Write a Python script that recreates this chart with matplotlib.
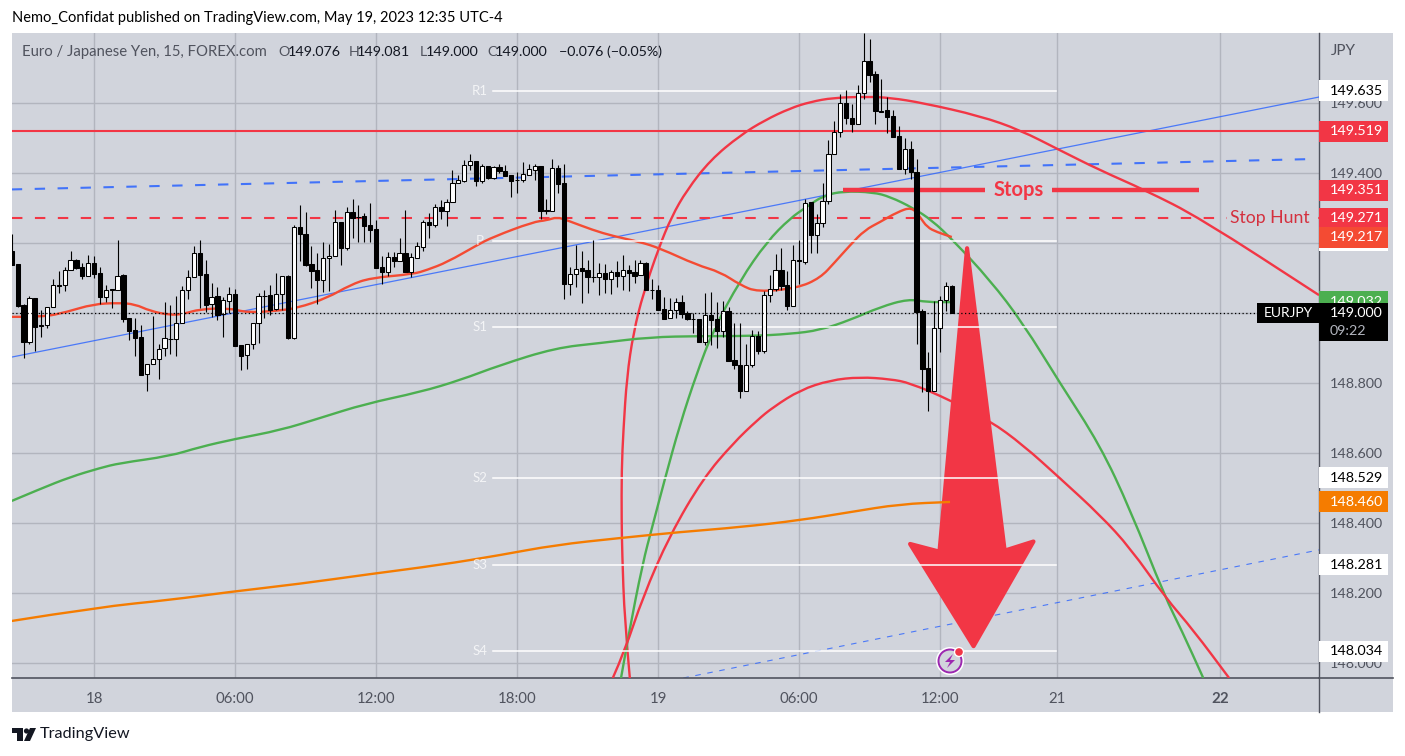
"""
EUR/JPY 15m TradingView snapshot, candles plus hand drawn curves.
Outputs: out.png
"""
import matplotlib
matplotlib.use("Agg")
import numpy as np
import matplotlib.pyplot as plt
from matplotlib.patches import Rectangle, Circle, Polygon, PathPatch
from matplotlib.path import Path
from matplotlib.transforms import IdentityTransform

# ── Colours ───────────────────────────────────────────────────────────────────
BG     = "#d1d4dc"
GRID   = "#b2b5be"
AXIS   = "#50535e"
RED    = "#f23645"
EMA    = "#f44b33"
GREEN  = "#4caf50"
ORANGE = "#f57c00"
BLUE   = "#2962ff"

# ── Candles, one row per 15 minute bar ────────────────────────────────────────
opens = [
    149.177, 149.140, 149.023, 148.918, 149.042, 148.965, 148.965, 149.018, 149.079, 149.079,
    149.122, 149.151, 149.130, 149.107, 149.143, 149.113, 149.047, 149.068, 149.067, 149.108,
    148.986, 148.951, 148.930, 148.825, 148.853, 148.868, 148.899, 148.926, 148.925, 148.970,
    149.065, 149.102, 149.170, 149.110, 149.025, 149.048, 148.996, 149.035, 149.054, 148.908,
    148.879, 148.910, 148.970, 149.049, 149.050, 149.010, 149.053, 149.106, 148.929, 149.245,
    149.227, 149.139, 149.122, 149.095, 149.156, 149.164, 149.259, 149.187, 149.288, 149.274,
    149.276, 149.251, 149.240, 149.130, 149.117, 149.160, 149.148, 149.171, 149.117, 149.158,
    149.189, 149.259, 149.252, 149.302, 149.292, 149.316, 149.370, 149.378, 149.422, 149.433,
    149.378, 149.420, 149.386, 149.416, 149.407, 149.393, 149.380, 149.381, 149.395, 149.409,
    149.420, 149.293, 149.292, 149.413, 149.370, 149.084, 149.112, 149.128, 149.122, 149.104,
    149.102, 149.113, 149.098, 149.117, 149.106, 149.123, 149.117, 149.108, 149.142, 149.067,
    149.065, 149.010, 148.985, 149.008, 149.031, 148.999, 148.984, 148.983, 148.918, 148.994,
    148.983, 148.949, 149.006, 148.866, 148.851, 148.778, 148.850, 148.933, 148.890, 149.050,
    149.069, 149.122, 149.079, 149.021, 149.150, 149.147, 149.316, 149.222, 149.256, 149.321,
    149.454, 149.517, 149.600, 149.557, 149.541, 149.628, 149.720, 149.683, 149.577, 149.581,
    149.562, 149.505, 149.411, 149.469, 149.403, 149.006, 148.842, 148.778, 148.956, 149.036,
    149.076,
]
highs = [
    149.227, 149.140, 149.027, 149.048, 149.042, 149.008, 149.018, 149.097, 149.121, 149.132,
    149.177, 149.155, 149.142, 149.166, 149.163, 149.132, 149.080, 149.068, 149.208, 149.111,
    148.986, 148.985, 148.966, 148.853, 148.991, 148.911, 149.030, 149.023, 149.048, 149.077,
    149.123, 149.191, 149.208, 149.151, 149.087, 149.075, 149.047, 149.075, 149.068, 148.908,
    148.910, 148.970, 149.056, 149.066, 149.080, 149.113, 149.105, 149.109, 149.251, 149.308,
    149.288, 149.191, 149.170, 149.202, 149.196, 149.294, 149.259, 149.302, 149.327, 149.308,
    149.287, 149.313, 149.266, 149.163, 149.173, 149.173, 149.215, 149.294, 149.170, 149.202,
    149.266, 149.285, 149.311, 149.323, 149.325, 149.408, 149.394, 149.437, 149.454, 149.433,
    149.427, 149.420, 149.420, 149.425, 149.423, 149.394, 149.404, 149.430, 149.427, 149.427,
    149.420, 149.327, 149.440, 149.423, 149.427, 149.130, 149.194, 149.177, 149.151, 149.208,
    149.142, 149.139, 149.123, 149.149, 149.167, 149.137, 149.151, 149.151, 149.147, 149.096,
    149.080, 149.045, 149.042, 149.042, 149.050, 149.005, 149.000, 148.983, 149.056, 149.060,
    149.030, 149.035, 149.016, 148.970, 148.970, 148.911, 148.951, 148.948, 149.063, 149.108,
    149.168, 149.185, 149.121, 149.194, 149.208, 149.325, 149.316, 149.283, 149.371, 149.495,
    149.549, 149.626, 149.638, 149.598, 149.652, 149.800, 149.783, 149.691, 149.669, 149.617,
    149.581, 149.535, 149.501, 149.492, 149.440, 149.012, 148.889, 149.033, 149.049, 149.088,
    149.081,
]
lows = [
    149.137, 149.018, 148.870, 148.911, 148.892, 148.930, 148.958, 149.018, 149.058, 149.064,
    149.122, 149.127, 149.098, 149.107, 149.101, 149.027, 149.032, 149.013, 149.066, 148.975,
    148.923, 148.877, 148.824, 148.778, 148.853, 148.812, 148.877, 148.883, 148.877, 148.970,
    149.039, 149.102, 149.013, 149.004, 148.989, 148.980, 148.932, 148.999, 148.907, 148.837,
    148.841, 148.897, 148.913, 148.987, 148.994, 149.008, 149.008, 148.925, 148.925, 149.149,
    149.134, 149.071, 149.027, 149.061, 149.063, 149.164, 149.137, 149.180, 149.215, 149.204,
    149.204, 149.204, 149.128, 149.082, 149.106, 149.132, 149.148, 149.117, 149.102, 149.158,
    149.178, 149.213, 149.246, 149.268, 149.249, 149.316, 149.370, 149.373, 149.408, 149.364,
    149.372, 149.382, 149.384, 149.401, 149.392, 149.332, 149.344, 149.375, 149.393, 149.380,
    149.269, 149.283, 149.292, 149.344, 149.041, 149.051, 149.075, 149.029, 149.056, 149.089,
    149.051, 149.058, 149.055, 149.075, 149.066, 149.064, 149.085, 149.108, 149.067, 149.041,
    149.009, 148.984, 148.985, 148.987, 148.985, 148.980, 148.944, 148.918, 148.909, 148.909,
    148.901, 148.930, 148.864, 148.839, 148.758, 148.776, 148.845, 148.882, 148.887, 149.032,
    149.064, 149.066, 149.009, 149.021, 149.082, 149.140, 149.172, 149.172, 149.246, 149.312,
    149.454, 149.504, 149.541, 149.516, 149.541, 149.611, 149.659, 149.541, 149.575, 149.513,
    149.504, 149.411, 149.396, 149.382, 148.912, 148.773, 148.721, 148.778, 148.889, 149.007,
    149.000,
]
closes = [
    149.137, 149.021, 148.918, 149.042, 148.961, 148.963, 149.018, 149.079, 149.078, 149.122,
    149.150, 149.129, 149.106, 149.142, 149.112, 149.047, 149.067, 149.067, 149.107, 148.984,
    148.949, 148.929, 148.824, 148.853, 148.868, 148.898, 148.928, 148.925, 148.970, 149.065,
    149.102, 149.170, 149.109, 149.024, 149.047, 148.995, 149.036, 149.053, 148.907, 148.878,
    148.910, 148.970, 149.048, 149.048, 149.008, 149.053, 149.105, 148.929, 149.245, 149.226,
    149.138, 149.121, 149.095, 149.156, 149.164, 149.259, 149.187, 149.288, 149.271, 149.273,
    149.249, 149.237, 149.128, 149.117, 149.159, 149.148, 149.170, 149.117, 149.159, 149.190,
    149.259, 149.251, 149.302, 149.291, 149.317, 149.370, 149.379, 149.422, 149.433, 149.378,
    149.419, 149.385, 149.416, 149.405, 149.392, 149.378, 149.379, 149.396, 149.410, 149.419,
    149.292, 149.292, 149.413, 149.369, 149.084, 149.112, 149.127, 149.121, 149.104, 149.103,
    149.113, 149.098, 149.116, 149.106, 149.122, 149.115, 149.106, 149.142, 149.067, 149.066,
    149.009, 148.984, 149.008, 149.030, 148.998, 148.984, 148.983, 148.918, 148.993, 148.980,
    148.949, 149.005, 148.864, 148.850, 148.778, 148.850, 148.933, 148.890, 149.050, 149.069,
    149.122, 149.078, 149.021, 149.150, 149.148, 149.314, 149.222, 149.256, 149.321, 149.454,
    149.517, 149.600, 149.557, 149.541, 149.628, 149.720, 149.681, 149.576, 149.575, 149.561,
    149.504, 149.411, 149.468, 149.402, 149.004, 148.840, 148.778, 148.956, 149.036, 149.076,
    149.000,
]

# ── Moving averages (bar index, price) ────────────────────────────────────────
ema_red_x = [0, 5.3, 9.4, 13.8, 18.1, 21, 23.5, 26.9, 29.2, 32, 37.1, 40, 45.1, 48.6, 53.7, 57.6,
             61, 68.3, 70.7, 74.1, 79.2, 81.9, 88.7, 91.1, 92.8, 94.5, 98.9, 102.3, 106.9, 110.3,
             116.6, 120.6, 124, 126.9, 133.7, 137.6, 140.1, 142.7, 145.2, 147.8, 150.7, 153.2,
             154.6, 155.8, 157.5, 160]
ema_red_y = [148.989, 148.988, 149.003, 149.025, 149.029, 149.025, 149.006, 148.994, 148.997,
             149.011, 149.014, 149.001, 149.006, 149.014, 149.043, 149.080, 149.100, 149.111,
             149.123, 149.145, 149.194, 149.217, 149.260, 149.265, 149.274, 149.265, 149.237,
             149.220, 149.203, 149.185, 149.137, 149.117, 149.080, 149.060, 149.071, 149.100,
             149.145, 149.194, 149.237, 149.260, 149.288, 149.303, 149.274, 149.245, 149.231,
             149.217]

ema_green_x = [0, 4.8, 9.9, 15, 18.4, 26.9, 32, 38, 45.7, 52.5, 60.1, 69.5, 76.3, 83.1, 92.5, 100.1,
               108.6, 117.1, 125.7, 132.5, 137.6, 142.7, 147.8, 152.6, 155.8, 159.7]
ema_green_y = [148.463, 148.497, 148.531, 148.557, 148.571, 148.591, 148.617, 148.640, 148.665,
               148.700, 148.740, 148.774, 148.808, 148.851, 148.900, 148.914, 148.931, 148.934,
               148.934, 148.940, 148.951, 148.980, 149.017, 149.040, 149.031, 149.031]

ema_orange_x = [0, 15, 26.9, 37.1, 49, 61, 72.9, 83.1, 92.5, 103.5, 113.7, 124, 134.2, 142.7, 151.2, 159.7]
ema_orange_y = [148.120, 148.160, 148.180, 148.203, 148.226, 148.254, 148.280, 148.308, 148.337,
                148.357, 148.374, 148.388, 148.408, 148.431, 148.454, 148.460]

# ── Drawn arcs ────────────────────────────────────────────────────────────────
arc_top_x = [105.2, 104.3, 103.9, 103.8, 103.8, 104.1, 104.7, 105.8, 107.5, 110.1, 112.3, 114.9, 118.9,
             124, 128.2, 132.5, 135.9, 139.8, 145.6, 149.5, 155.1, 164.8, 171.6, 178.4, 185.2, 192.9,
             202.3, 222.5]
arc_top_y = [147.957, 148.123, 148.314, 148.408, 148.551, 148.665, 148.818, 148.943, 149.057, 149.185,
             149.275, 149.351, 149.437, 149.508, 149.551, 149.585, 149.603, 149.615, 149.618, 149.615,
             149.600, 149.563, 149.523, 149.465, 149.408, 149.351, 149.271, 149.051]

arc_green_x = [103.7, 104.9, 107.4, 109, 111.2, 113.7, 116.6, 119.4, 124, 128.5, 132.5, 135.3, 138.1,
               141.5, 146.6, 149.5, 153.4, 156.6, 160.2, 166.5, 172.1, 178.4, 185.2, 190.4, 196.3,
               199.1, 202.8]
arc_green_y = [147.957, 148.074, 148.286, 148.388, 148.528, 148.680, 148.828, 148.951, 149.094, 149.203,
               149.271, 149.303, 149.335, 149.348, 149.345, 149.332, 149.300, 149.265, 149.208, 149.094,
               148.971, 148.800, 148.623, 148.437, 148.188, 148.094, 147.957]

arc_low_x = [102.3, 104.4, 107.4, 112, 117.7, 122.8, 126.9, 129.6, 134.2, 139.3, 144.4, 149.5, 152.9,
             159.7, 166.5, 172.1, 178.4, 185.2, 190.4, 196.3, 201.1, 207.2]
arc_low_y = [147.957, 148.037, 148.188, 148.365, 148.528, 148.628, 148.694, 148.731, 148.780, 148.808,
             148.817, 148.811, 148.800, 148.751, 148.692, 148.623, 148.528, 148.423, 148.328, 148.188,
             148.094, 147.957]

# ── Straight drawings ─────────────────────────────────────────────────────────
trend_x = [0, 222.5]
trend_y = [148.874, 149.617]
upper_dash_x = [0, 221.8]
upper_dash_y = [149.353, 149.440]
lower_dash_x = [114.3, 222.5]
lower_dash_y = [147.957, 148.323]

stop_level = 149.351
stop_left = [141.5, 165.7]
stop_right = [177.1, 202]
resistance = 149.519
hunt_level = 149.271
last_price = 149.000

pivot_names = ["R1", "P", "S1", "S2", "S3", "S4"]
pivot_levels = [149.635, 149.206, 148.960, 148.529, 148.281, 148.034]
pivot_span = [81.9, 177.7]

arrow_x = [162.6, 169.0, 173.9, 163.7, 152.9, 157.9]
arrow_y = [149.185, 148.321, 148.347, 148.048, 148.340, 148.318]

# ── Axis labels ───────────────────────────────────────────────────────────────
price_ticks = [148.0, 148.2, 148.4, 148.6, 148.8, 149.0, 149.2, 149.4, 149.6]
price_tick_labels = ["148.000", "148.200", "148.400", "148.600", "148.800", "", "", "149.400", "149.600"]
time_ticks = [14, 38, 62, 86, 110, 134, 158, 177.9, 205.7]
time_labels = ["18", "06:00", "12:00", "18:00", "19", "06:00", "12:00", "21", "22"]

# label boxes on the price scale, later ones sit on top
scale_prices = [149.635, 149.519, 149.351, 149.206, 149.271, 149.217, 149.032, 148.529, 148.460, 148.281, 148.034]
scale_texts = ["149.635", "149.519", "149.351", "", "149.271", "149.217", "149.032", "148.529", "148.460", "148.281", "148.034"]
scale_fills = ["white", RED, RED, "white", RED, EMA, GREEN, "white", ORANGE, "white", "white"]
scale_inks = ["black", "white", "white", "white", "white", "white", "white", "black", "white", "black", "black"]

plt.rcParams["font.family"] = ["Lato", "DejaVu Sans"]

W, H = 1405, 756
fig = plt.figure(figsize=(W / 100, H / 100), dpi=100, facecolor="white")

def px(x, y):
    return x / W, 1 - y / H

# grey panel behind plot, price scale and time scale
fig.add_artist(Rectangle(px(12, 712), 1381 / W, 679 / H, transform=fig.transFigure,
                         facecolor=BG, edgecolor="none", zorder=-5))

ax = fig.add_axes([12 / W, (H - 678) / H, 1307 / W, 645 / H])
ax.patch.set_alpha(0)
ax.set_xlim(0.04, 222.5)
ax.set_ylim(147.957, 149.8)
ax.set_axisbelow(True)

ax.grid(True, color=GRID, lw=1.0)
ax.set_yticks(price_ticks)
ax.set_yticklabels(price_tick_labels)
ax.yaxis.tick_right()
ax.tick_params(axis="y", length=0, pad=8, labelsize=10.3, labelcolor=AXIS)
ax.set_xticks(time_ticks)
ax.set_xticklabels(time_labels)
ax.tick_params(axis="x", length=0, pad=10, labelsize=10.8, labelcolor=AXIS)
ax.get_xticklabels()[-1].set_fontweight("bold")

for side in ("top", "left", "right"):
    ax.spines[side].set_visible(False)
ax.spines["bottom"].set_color(AXIS)
ax.spines["bottom"].set_linewidth(1.2)

# axis rules that run on across the scales
ax.plot([1, 1], [-34 / 645, 1], transform=ax.transAxes, color=AXIS, lw=1, clip_on=False, zorder=1)
ax.plot([1, 1381 / 1307], [0, 0], transform=ax.transAxes, color=AXIS, lw=1.2, clip_on=False, zorder=1)

def curve(xs, ys, color, z):
    # knots act as control points of a quadratic path
    pts = list(zip(xs, ys))
    verts, codes = [pts[0]], [Path.MOVETO]
    for a, b in zip(pts[1:-1], pts[2:]):
        verts += [a, ((a[0] + b[0]) / 2, (a[1] + b[1]) / 2)]
        codes += [Path.CURVE3, Path.CURVE3]
    verts.append(pts[-1])
    codes.append(Path.LINETO)
    ax.add_patch(PathPatch(Path(verts, codes), fill=False, edgecolor=color, lw=1.7, zorder=z))

# ── Lines under the candles ───────────────────────────────────────────────────
ax.plot(trend_x, trend_y, color=BLUE, lw=0.9, alpha=0.8, zorder=2)
ax.plot(upper_dash_x, upper_dash_y, color=BLUE, lw=1.5, alpha=0.85, dashes=(5, 6), zorder=2)
ax.plot(lower_dash_x, lower_dash_y, color=BLUE, lw=0.8, alpha=0.8, dashes=(5, 6), zorder=2)
ax.axhline(resistance, color=RED, lw=1.5, zorder=2)
ax.axhline(hunt_level, color=RED, lw=1.5, dashes=(5, 6), zorder=2)

curve(arc_top_x, arc_top_y, RED, 3)
curve(arc_green_x, arc_green_y, GREEN, 3)
curve(arc_low_x, arc_low_y, RED, 3)
curve(ema_green_x, ema_green_y, GREEN, 3)
curve(ema_red_x, ema_red_y, EMA, 3)

ax.add_patch(Polygon(np.column_stack([arrow_x, arrow_y]), closed=True, facecolor=RED, edgecolor=RED,
                     lw=3, joinstyle="round", zorder=4))
curve(ema_orange_x, ema_orange_y, ORANGE, 4.5)

for name, level in zip(pivot_names, pivot_levels):
    ax.plot(pivot_span, [level, level], color="white", lw=1.1, zorder=5)
    ax.text(pivot_span[0] - 2.2, level, name, color="white", alpha=0.75, fontsize=9.5,
            ha="center", va="center", zorder=5)

for span in (stop_left, stop_right):
    ax.plot(span, [stop_level, stop_level], color=RED, lw=3.2, solid_capstyle="butt", zorder=5)

# ── Candles ───────────────────────────────────────────────────────────────────
bars = np.arange(len(opens))
o, h, l, c = map(np.array, (opens, highs, lows, closes))
ax.vlines(bars, l, h, color="black", lw=0.8, zorder=6)
fills = np.where(c > o, "white", "black")
ax.bar(bars, np.abs(c - o), bottom=np.minimum(o, c), width=0.72, color=fills,
       edgecolor="black", lw=0.75, zorder=7)

ax.axhline(last_price, color="black", lw=0.9, dashes=(1, 2), zorder=8)

# ── Drawn text ────────────────────────────────────────────────────────────────
ax.text(171.4, stop_level, "Stops", color=RED, fontsize=14.5, fontweight="bold", ha="center", va="center", zorder=8)
ax.text(214.2, hunt_level, "Stop Hunt", color="#d4303e", fontsize=12.7, ha="center", va="center",
        zorder=8, bbox=dict(facecolor=BG, edgecolor="none", boxstyle="square,pad=0.2"))

# ── Price scale boxes ─────────────────────────────────────────────────────────
box_w = 69 / 1307
box_h = 21 / 350
scale_x = 1 + 11 / 1307
to_scale = ax.get_yaxis_transform()
for price, text, fill, ink in zip(scale_prices, scale_texts, scale_fills, scale_inks):
    ax.add_patch(Rectangle((1, price - box_h / 2), box_w, box_h, transform=to_scale,
                           facecolor=fill, edgecolor="none", clip_on=False, zorder=9))
    if text:
        ax.text(scale_x, price, text, transform=to_scale, color=ink, fontsize=10.3,
                ha="left", va="center", clip_on=False, zorder=10)

# last price block with countdown, symbol tag beside it
ax.add_patch(Rectangle((1, last_price - 28 / 350), box_w, 38 / 350, transform=to_scale,
                       facecolor="black", edgecolor="none", clip_on=False, zorder=11))
ax.add_patch(Rectangle((1 - 62 / 1307, last_price - 10 / 350), 62 / 1307, 20 / 350, transform=to_scale,
                       facecolor="black", edgecolor="none", clip_on=False, zorder=11))
ax.text(scale_x, last_price, "149.000", transform=to_scale, color="white",
        fontsize=10.3, ha="left", va="center", clip_on=False, zorder=12)
ax.text(scale_x, last_price - 18 / 350, "09:22", transform=to_scale, color="#b2b5be",
        fontsize=10.3, ha="left", va="center", clip_on=False, zorder=12)
ax.text(1 - 31 / 1307, last_price, "EURJPY", transform=to_scale, color="white",
        fontsize=10, ha="center", va="center", clip_on=False, zorder=12)

# ── Header, legend, footer ────────────────────────────────────────────────────
def label(x, y, text, color=AXIS, size=10.5, **kw):
    fig.text(*px(x, y), text, color=color, fontsize=size, ha="left", va="center", **kw)

label(12, 18, "Nemo_Confidat published on TradingView.com, May 19, 2023 12:35 UTC-4", color="black", size=10.57)
label(1331, 51, "JPY", size=11)
label(22, 52, "Euro / Japanese Yen, 15, FOREX.com", size=10.7)
for x, letter, x_val, value in [(278, "O", 288, "149.076"), (349, "H", 357, "149.081"),
                                (420, "L", 426, "149.000"), (487, "C", 495, "149.000")]:
    label(x, 52, letter, size=10.3)
    label(x_val, 52, value, color="#131722", size=10.3)
label(559, 52, "\u22120.076 (\u22120.05%)", color="#131722", size=10.3)
label(40, 734, "TradingView", color="#131722", size=11.7)

# TradingView mark
for pts in ([(12, 728), (23, 728), (23, 741), (17, 741), (17, 733), (12, 733)],
            [(30, 728), (36, 728), (30, 741), (24, 741)]):
    fig.add_artist(Polygon([(x, H - y) for x, y in pts], closed=True, transform=IdentityTransform(),
                           facecolor="#131722", edgecolor="none"))
fig.add_artist(Circle((26.5, H - 731), 2.6, transform=IdentityTransform(), facecolor="#131722", edgecolor="none"))

# idea badge
tp = IdentityTransform()
fig.add_artist(Circle((950, H - 661), 14, transform=tp, facecolor="white", edgecolor="none"))
fig.add_artist(Circle((950, H - 661), 11.5, transform=tp, facecolor=BG, edgecolor="#9c27b0", lw=1.4))
fig.add_artist(Polygon([(x, H - y) for x, y in [(953, 654), (945, 662), (950, 662), (947, 668), (955, 660), (950, 660)]],
                       closed=True, transform=tp, facecolor="#9c27b0", edgecolor="none"))
fig.add_artist(Circle((959, H - 652), 4.5, transform=tp, facecolor=RED, edgecolor="white", lw=1))

fig.savefig("out.png", dpi=100, facecolor="white")
plt.close(fig)
